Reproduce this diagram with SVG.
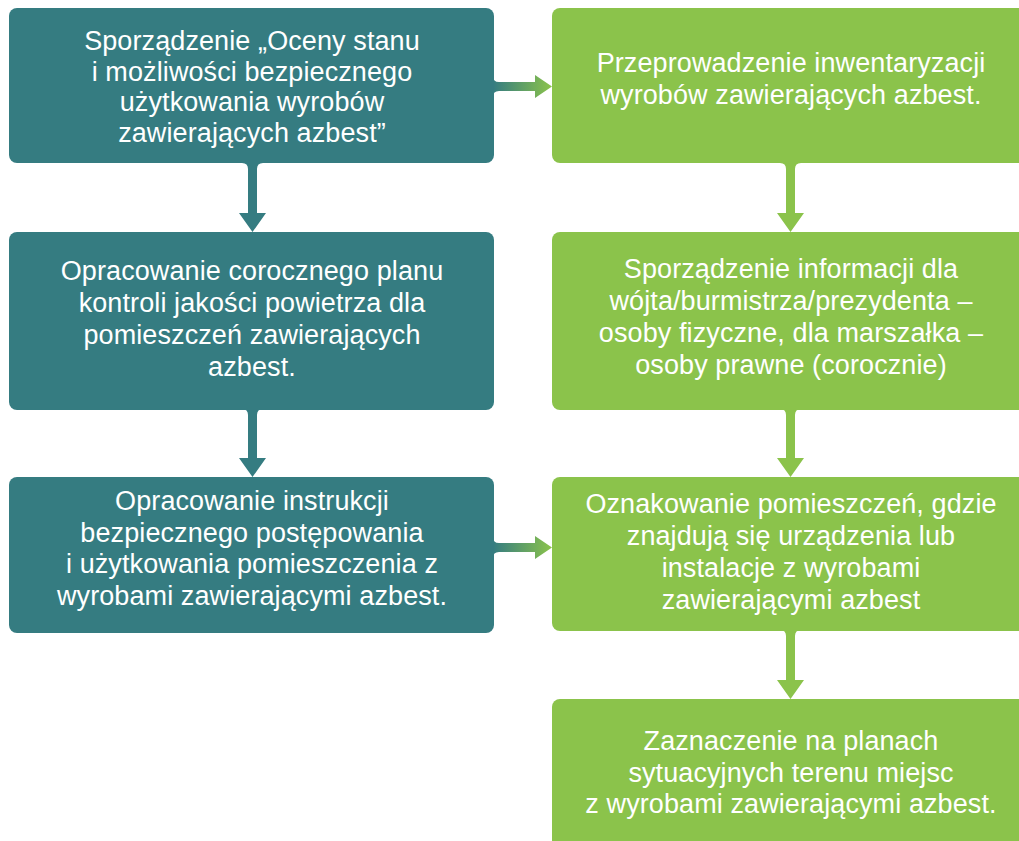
<svg xmlns="http://www.w3.org/2000/svg" width="1019" height="841" viewBox="0 0 1019 841">
  <defs>
    <style>
      .teal { fill: #357c81; }
      .green { fill: #8bc34b; }
      .lbl { font-family: "Liberation Sans", Arial, sans-serif; font-size: 27px; letter-spacing: 0.1px; fill: #ffffff; text-anchor: middle; }
    </style>
    <linearGradient id="tg" x1="0" y1="0" x2="1" y2="0">
      <stop offset="0" stop-color="#357c81"/>
      <stop offset="1" stop-color="#8bc34b"/>
    </linearGradient>
  </defs>
  <rect width="1019" height="841" fill="#ffffff"/>

  <g id="connectors">
    <path class="teal" d="M242,163 Q248,163 248,169 L248,213 L239,213 L252.5,232 L266,213 L257,213 L257,169 Q257,163 263,163 Z"/>
    <path class="teal" d="M242,409 Q248,409 248,415 L248,458 L239,458 L252.5,477 L266,458 L257,458 L257,415 Q257,409 263,409 Z"/>
    <path class="green" d="M780,163 Q786,163 786,169 L786,213 L777,213 L790.5,232 L804,213 L795,213 L795,169 Q795,163 801,163 Z"/>
    <path class="green" d="M780,409 Q786,409 786,415 L786,458 L777,458 L790.5,477 L804,458 L795,458 L795,415 Q795,409 801,409 Z"/>
    <path class="green" d="M780,630 Q786,630 786,636 L786,680 L777,680 L790.5,699 L804,680 L795,680 L795,636 Q795,630 801,630 Z"/>
    <path fill="url(#tg)" d="M493,76 Q493,82 499,82 L535,82 L535,75 L552,86.5 L535,98 L535,91 L499,91 Q493,91 493,97 Z"/>
    <path fill="url(#tg)" d="M493,537 Q493,543 499,543 L535,543 L535,536 L552,547.5 L535,559 L535,552 L499,552 Q493,552 493,558 Z"/>
  </g>

  <g id="n1">
    <rect class="teal" x="9" y="8" width="485" height="155" rx="8"/>
    <text class="lbl" x="252" y="50">Sporządzenie „Oceny stanu</text>
    <text class="lbl" x="252" y="81">i możliwości bezpiecznego</text>
    <text class="lbl" x="252" y="111">użytkowania wyrobów</text>
    <text class="lbl" x="252" y="142">zawierających azbest”</text>
  </g>
  <g id="n2">
    <rect class="teal" x="9" y="232" width="485" height="178" rx="8"/>
    <text class="lbl" x="252" y="280">Opracowanie corocznego planu</text>
    <text class="lbl" x="252" y="312">kontroli jakości powietrza dla</text>
    <text class="lbl" x="252" y="344">pomieszczeń zawierających</text>
    <text class="lbl" x="252" y="376">azbest.</text>
  </g>
  <g id="n3">
    <rect class="teal" x="9" y="477" width="485" height="156" rx="8"/>
    <text class="lbl" x="252" y="510">Opracowanie instrukcji</text>
    <text class="lbl" x="252" y="542">bezpiecznego postępowania</text>
    <text class="lbl" x="252" y="573">i użytkowania pomieszczenia z</text>
    <text class="lbl" x="252" y="605">wyrobami zawierającymi azbest.</text>
  </g>
  <g id="n4">
    <rect class="green" x="552" y="8" width="480" height="155" rx="8"/>
    <text class="lbl" x="791" y="72">Przeprowadzenie inwentaryzacji</text>
    <text class="lbl" x="791" y="104">wyrobów zawierających azbest.</text>
  </g>
  <g id="n5">
    <rect class="green" x="552" y="232" width="480" height="178" rx="8"/>
    <text class="lbl" x="791" y="278">Sporządzenie informacji dla</text>
    <text class="lbl" x="791" y="310">wójta/burmistrza/prezydenta –</text>
    <text class="lbl" x="791" y="342">osoby fizyczne, dla marszałka –</text>
    <text class="lbl" x="791" y="374">osoby prawne (corocznie)</text>
  </g>
  <g id="n6">
    <rect class="green" x="552" y="477" width="480" height="154" rx="8"/>
    <text class="lbl" x="791" y="513">Oznakowanie pomieszczeń, gdzie</text>
    <text class="lbl" x="791" y="545">znajdują się urządzenia lub</text>
    <text class="lbl" x="791" y="577">instalacje z wyrobami</text>
    <text class="lbl" x="791" y="609">zawierającymi azbest</text>
  </g>
  <g id="n7">
    <rect class="green" x="552" y="699" width="480" height="160" rx="8"/>
    <text class="lbl" x="791" y="750">Zaznaczenie na planach</text>
    <text class="lbl" x="791" y="782">sytuacyjnych terenu miejsc</text>
    <text class="lbl" x="791" y="813">z wyrobami zawierającymi azbest.</text>
  </g>
</svg>
